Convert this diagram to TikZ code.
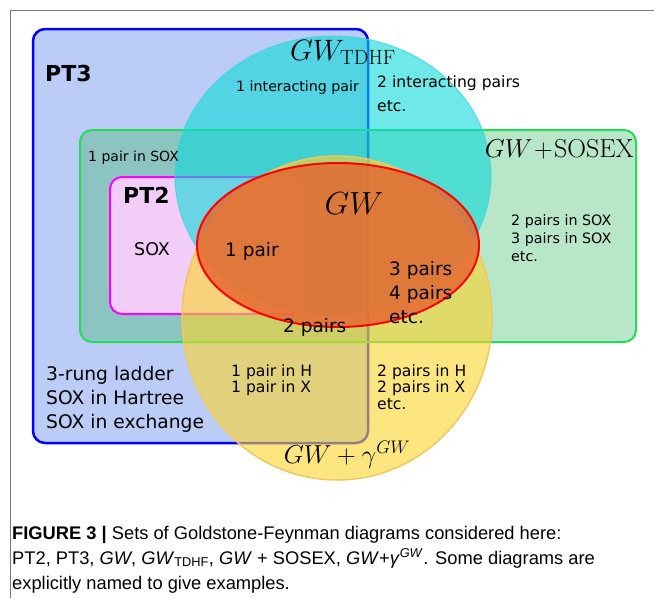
\RequirePackage{fix-cm}
\documentclass[tikz,border=0pt]{standalone}
\usepackage[no-math]{fontspec}
\setmainfont{Liberation Sans}
\newfontfamily\dejavu{DejaVu Sans}
\newfontfamily\capfont{Liberation Sans}
\usetikzlibrary{positioning}
\definecolor{ptthreefill}{RGB}{119,153,238}
\definecolor{ptthreeline}{RGB}{0,0,255}
\definecolor{sosexfill}{RGB}{52,183,98}
\definecolor{sosexline}{RGB}{34,221,85}
\definecolor{pttwofill}{RGB}{254,206,254}
\definecolor{pttwoline}{RGB}{255,0,255}
\definecolor{tdhffill}{RGB}{13,217,217}
\definecolor{tdhfline}{RGB}{60,215,215}
\definecolor{gamfill}{RGB}{252,213,43}
\definecolor{gamline}{RGB}{240,200,96}
\definecolor{gwfill}{RGB}{230,105,50}
\definecolor{gwline}{RGB}{255,0,0}
\definecolor{framegray}{RGB}{120,120,120}
\tikzset{
  lbl/.style={inner sep=0pt, anchor=base west, align=left, text=black},
  mathlbl/.style={inner sep=0pt, text=black},
}
\begin{document}
\begin{tikzpicture}[x=1pt,y=-1pt]
\useasboundingbox (0,0) rectangle (654,598);
% frame
\coordinate (f1) at (654,10);
\coordinate (f2) at (10,10);
\coordinate (f3) at (10,598);
\draw[framegray, line width=1pt] (f1) -- (f2) -- (f3);
% PT3
\path[fill=ptthreefill, fill opacity=0.5, draw=ptthreeline, line width=2.5pt, rounded corners=12pt] (33,29) rectangle (368,443);
% GW+SOSEX
\path[fill=sosexfill, fill opacity=0.35, draw=sosexline, line width=2pt, rounded corners=12pt] (80,130) rectangle (636,342);
% PT2
\path[fill=pttwofill, fill opacity=0.9, draw=pttwoline, line width=2pt, rounded corners=12pt] (110,177) rectangle (306,314);
% GW_TDHF
\path[fill=tdhffill, fill opacity=0.6, draw=tdhfline, draw opacity=0.8, line width=1pt] (333,176) ellipse [x radius=158, y radius=140];
% GW + gamma
\path[fill=gamfill, fill opacity=0.6, draw=gamline, line width=1.5pt] (337,318) ellipse [x radius=155, y radius=162];
% GW
\path[fill=gwfill, fill opacity=0.85, draw=gwline, line width=2pt] (338,245) ellipse [x radius=141, y radius=82];

% labels (multi-line nodes are placed at the baseline of their last line)
\node[lbl, font=\dejavu\bfseries\fontsize{22}{26}\selectfont] (pt3) at (45,81) {PT3};
\node[mathlbl, font=\fontsize{29.5}{33}\selectfont, anchor=base] (tdhf) at (343,60) {$GW_{\mathrm{TDHF}}$};
\node[lbl, font=\dejavu\fontsize{14.2}{17}\selectfont] (int1) at (236,91) {1 interacting pair};
\node[lbl, font=\dejavu\fontsize{15.6}{24}\selectfont] (int2) at (377,111) {2 interacting pairs\\etc.};
\node[lbl, font=\dejavu\fontsize{14}{17}\selectfont] (sox1) at (88,161) {1 pair in SOX};
\node[mathlbl, font=\fontsize{26}{30}\selectfont, anchor=base east] (sosex) at (634,157) {$GW\!+\!\mathrm{SOSEX}$};
\node[lbl, font=\dejavu\bfseries\fontsize{22}{26}\selectfont] (pt2) at (123,203) {PT2};
\node[lbl, font=\dejavu\fontsize{17.5}{21}\selectfont] (sox) at (134,255) {SOX};
\node[lbl, font=\dejavu\fontsize{18.5}{22}\selectfont] (p1) at (225,256) {1 pair};
\node[mathlbl, font=\fontsize{32}{36}\selectfont, anchor=base] (gw) at (354,214) {$GW$};
\node[lbl, font=\dejavu\fontsize{18.5}{24}\selectfont] (p34) at (389,323) {3 pairs\\4 pairs\\etc.};
\node[lbl, font=\dejavu\fontsize{18.5}{22}\selectfont] (p2) at (283,332) {2 pairs};
\node[lbl, font=\dejavu\fontsize{14.3}{18}\selectfont] (p23sox) at (511,261) {2 pairs in SOX\\3 pairs in SOX\\etc.};
\node[lbl, font=\dejavu\fontsize{18.7}{24}\selectfont] (rung) at (46,428) {3-rung ladder\\SOX in Hartree\\SOX in exchange};
\node[lbl, font=\dejavu\fontsize{15.6}{16.5}\selectfont] (hx1) at (231,392.5) {1 pair in H\\1 pair in X};
\node[lbl, font=\dejavu\fontsize{15.6}{16.5}\selectfont] (hx2) at (377,409) {2 pairs in H\\2 pairs in X\\etc.};
\node[mathlbl, font=\fontsize{26}{30}\selectfont, anchor=base] (gwgam) at (347,463) {$GW+\gamma^{GW}$};

% caption
\node[lbl, font=\capfont\fontsize{18.3}{25}\selectfont] (cap) at (12,589) {\textbf{FIGURE 3 |} Sets of Goldstone-Feynman diagrams considered here:\\PT2, PT3, \textit{GW}, \textit{GW}\textsubscript{TDHF}, \textit{GW} + SOSEX, \textit{GW}+\textit{γ}\textsuperscript{\textit{GW}}. Some diagrams are\\explicitly named to give examples.};
\end{tikzpicture}
\end{document}
